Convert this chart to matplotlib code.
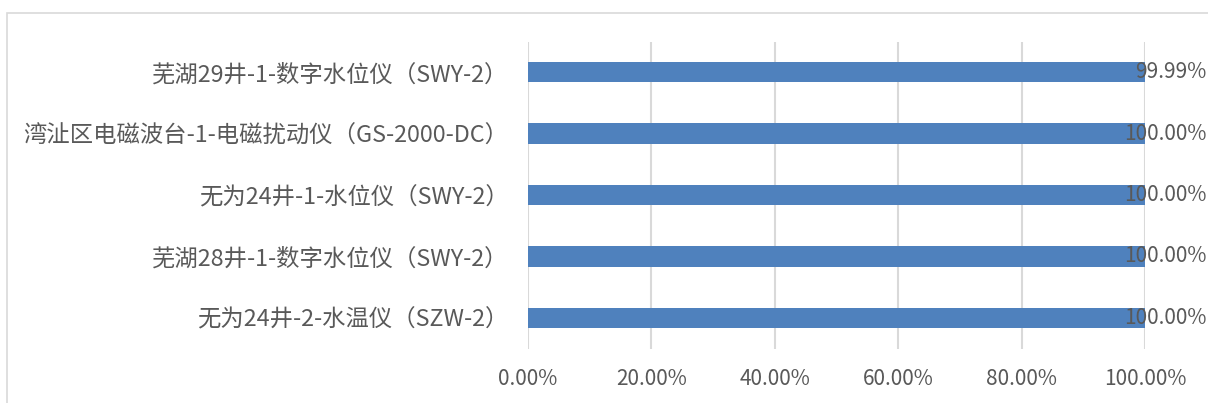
import matplotlib
matplotlib.use("Agg")
import matplotlib.pyplot as plt
from matplotlib.patches import Rectangle
from matplotlib.ticker import FuncFormatter

plt.rcParams['font.family'] = ['Noto Sans CJK SC', 'DejaVu Sans']

# data
stations = [
    '芜湖29井-1-数字水位仪（SWY-2）',
    '湾沚区电磁波台-1-电磁扰动仪（GS-2000-DC）',
    '无为24井-1-水位仪（SWY-2）',
    '芜湖28井-1-数字水位仪（SWY-2）',
    '无为24井-2-水温仪（SZW-2）',
]
rates = [99.99, 100.00, 100.00, 100.00, 100.00]
xticks = [0, 20, 40, 60, 80, 100]

text_color = '#595959'
grid_color = '#D9D9D9'

fig = plt.figure(figsize=(12.08, 4.03), dpi=100)
ax = fig.add_axes([528 / 1208, 1 - 348.5 / 403, (1145 - 528) / 1208, 307 / 403])

# frame of the chart area (right and bottom edges are off the picture)
fig.patches.append(Rectangle((7 / 1208, -0.1), 1.2, 1 - 13 / 403 + 0.1,
                             transform=fig.transFigure, fill=False,
                             edgecolor=grid_color, linewidth=1.2))

ypos = list(range(len(stations)))
ax.barh(ypos, rates, height=0.33, color='#4F81BD', zorder=3)

for y, v in zip(ypos, rates):
    ax.annotate('%.2f%%' % v, xy=(v, y), xytext=(62, 0),
                textcoords='offset pixels', ha='right', va='center',
                fontsize=15, color=text_color, zorder=4)

ax.set_xlim(0, 100)
ax.set_ylim(-0.5, len(stations) - 0.5)
ax.invert_yaxis()
ax.set_xticks(xticks)
ax.xaxis.set_major_formatter(FuncFormatter(lambda x, p: '%.2f%%' % x))
ax.set_yticks(ypos)
ax.set_yticklabels(stations, fontsize=16.8)
ax.tick_params(axis='x', labelsize=15)
ax.tick_params(axis='both', length=0, labelcolor=text_color)
ax.tick_params(axis='x', pad=14)
ax.tick_params(axis='y', pad=14)
ax.grid(axis='x', color=grid_color, linewidth=1.5, zorder=0)
for s in ax.spines.values():
    s.set_visible(False)

fig.savefig('out.png', dpi=100)
